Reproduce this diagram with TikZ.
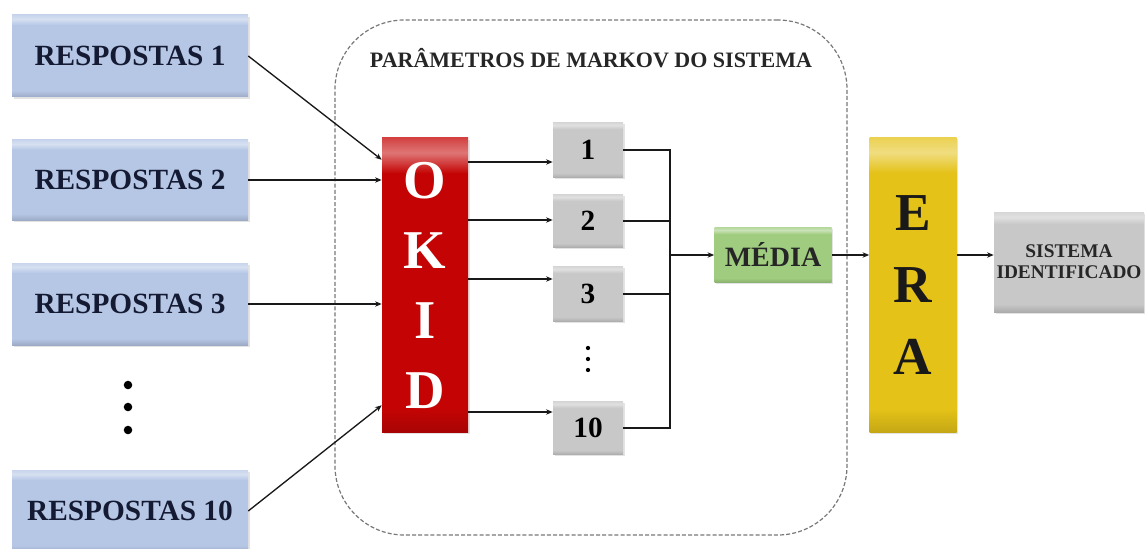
\documentclass[tikz,border=0pt]{standalone}
\usepackage{fontspec}
\setmainfont{Liberation Serif}
\usetikzlibrary{arrows.meta,shadows}

\definecolor{respblue}{RGB}{182,199,230}
\definecolor{respink}{RGB}{20,26,50}
\definecolor{okidred}{RGB}{196,4,4}
\definecolor{paramgray}{RGB}{200,200,200}
\definecolor{mediagreen}{RGB}{160,204,128}
\definecolor{erayellow}{RGB}{228,194,24}
\definecolor{framegray}{RGB}{120,120,120}
\colorlet{bvbase}{gray}

% flat fill with a light rim along the top edge and a slightly darker foot
\pgfdeclareverticalshading[bvbase]{bevelshade}{100bp}{%
  color(0bp)=(bvbase!84!black); color(25bp)=(bvbase!86!black);
  color(29bp)=(bvbase); color(69bp)=(bvbase);
  color(72.5bp)=(bvbase!55!white); color(75bp)=(bvbase!75!white);
  color(100bp)=(bvbase!75!white)}

\begin{document}
\begin{tikzpicture}[x=0.75pt,y=-0.75pt,
  sz/.style 2 args={minimum width=#1*0.75pt, minimum height=#2*0.75pt, inner sep=0pt},
  bevel/.style={draw=none, /utils/exec={\colorlet{bvbase}{#1}}, shade, shading=bevelshade,
    drop shadow={opacity=0.22, shadow xshift=1.2pt, shadow yshift=-1.2pt}},
  respbox/.style={bevel=respblue, text=respink, font=\fontsize{22}{24}\selectfont\bfseries},
  parambox/.style={bevel=paramgray, text=black, font=\fontsize{22}{24}\selectfont\bfseries},
  wire/.style={line width=1pt, draw=black!90},
  arr/.style={wire, -{Stealth[length=5pt,width=4pt]}},
  bigletters/.style={align=center, font=\fontsize{41}{52.5}\selectfont\bfseries}
]
\useasboundingbox (0,0) rectangle (1145,549);
\fill[white] (0,0) rectangle (1145,549);

% container for the Markov parameters
\node[draw=framegray, line width=0.9pt, dash pattern=on 3pt off 1.6pt,
      rounded corners=52pt, sz={512}{515}] (frame) at (591,277.5) {};
\node[font=\fontsize{16.5}{18}\selectfont\bfseries, text=black!85] (title) at (591,58)
  {PARÂMETROS DE MARKOV DO SISTEMA};

% input responses
\node[respbox, sz={236}{82}] (r1)  at (130,56)  {RESPOSTAS 1};
\node[respbox, sz={236}{80}] (r2)  at (130,180) {RESPOSTAS 2};
\node[respbox, sz={236}{82}] (r3)  at (130,304) {RESPOSTAS 3};
\node[respbox, sz={236}{82}] (r10) at (130,511) {RESPOSTAS 10};
\foreach \yy in {385,407,430} \fill (128,\yy) circle[radius=3.2pt];

% OKID block
\node[bevel=okidred, sz={86}{294}, bigletters, text=white] (okid) at (425,285)
  {O\\K\\I\\D};

% Markov parameter sets
\node[parambox, sz={70}{55}] (b1)  at (588,150) {1};
\node[parambox, sz={70}{53}] (b2)  at (588,221) {2};
\node[parambox, sz={70}{55}] (b3)  at (588,294) {3};
\node[parambox, sz={70}{53}] (b10) at (588,428) {10};
\foreach \yy in {348,359,370} \fill (588,\yy) circle[radius=1.6pt];

% average, ERA and identified system
\node[bevel=mediagreen, sz={117}{55}, font=\fontsize{21}{24}\selectfont\bfseries, text=black!85]
  (media) at (773,255) {MÉDIA};
\node[bevel=erayellow, sz={87}{295}, bigletters, font=\fontsize{40}{54}\selectfont\bfseries, text=black!90]
  (era) at (913,285) {E\\R\\A};
\node[bevel=paramgray, sz={150}{100}, align=center, text=black!85,
      font=\fontsize{14.5}{15.75}\selectfont\bfseries] (sis) at (1069,262)
  {SISTEMA\\IDENTIFICADO};

% connectors: responses into OKID
\path (okid.north west) ++(0,22) coordinate (in1);
\path (okid.south west) ++(0,-27) coordinate (in10);
\draw[arr] (r1.east) -- (in1);
\draw[arr] (r2.east) -- (okid.west |- r2.east);
\draw[arr] (r3.east) -- (okid.west |- r3.east);
\draw[arr] (r10.east) -- (in10);

% OKID into each parameter set
\path (b1.west)  ++(0,12)  coordinate (b1in);
\path (b2.west)  ++(0,-1)  coordinate (b2in);
\path (b3.west)  ++(0,-15) coordinate (b3in);
\path (b10.west) ++(0,-16) coordinate (b10in);
\foreach \b in {b1in,b2in,b3in,b10in}
  \draw[arr] (okid.east |- \b) -- (\b);

% parameter sets gathered on a bus towards the average
\coordinate (bus) at (670,255);
\foreach \b in {b1,b2,b3,b10}
  \draw[wire] (\b.east) -| (bus);
\draw[arr] (bus) -- (media.west);
\draw[arr] (media.east) -- (era.west |- media.east);
\draw[arr] (era.east |- media.east) -- (sis.west |- media.east);
\end{tikzpicture}
\end{document}
